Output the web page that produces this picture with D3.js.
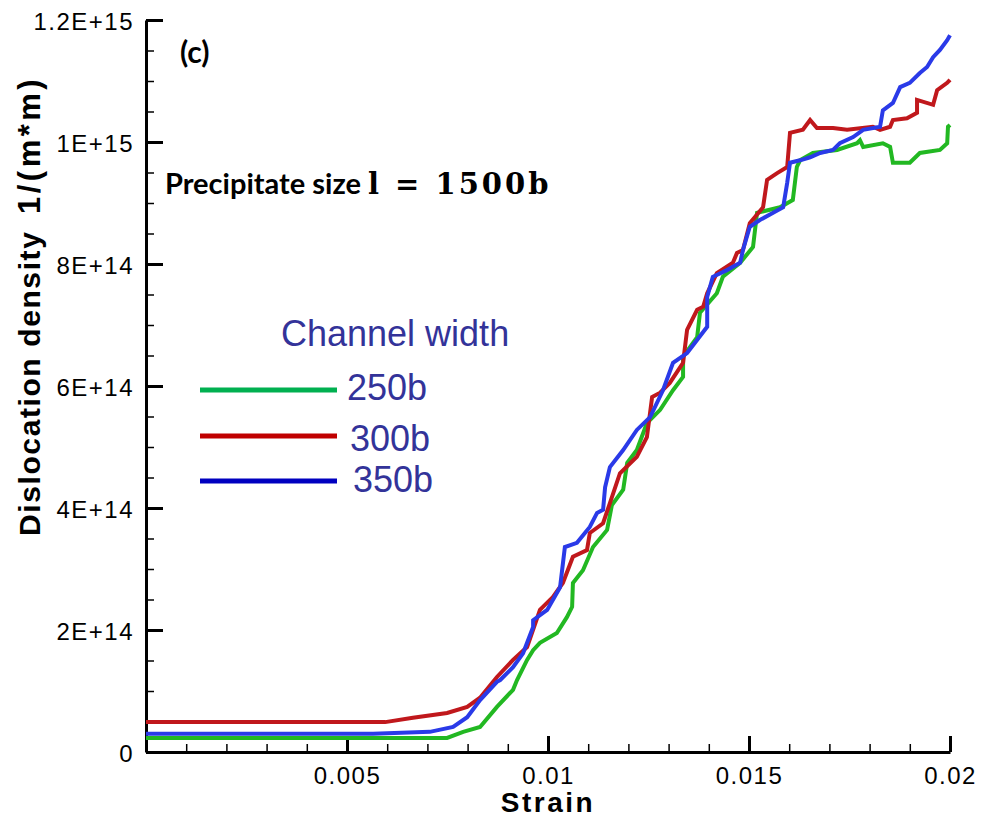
<!DOCTYPE html>
<html>
<head>
<meta charset="utf-8">
<script src="https://cdn.jsdelivr.net/npm/d3@7"></script>
<style>
  body { margin: 0; background: #fff; }
  svg { display: block; }
</style>
</head>
<body>
<svg id="chart"></svg>
<script>
// strain in units of 1e-3, density in units of 1e14 1/m^2
const series = ['250b', '300b', '350b']
const colors = ['#22b822', '#c0181c', '#2a3ae8']
const legendColors = ['#00b050', '#c00000', '#0000c0']

const strain250 = [0, 7.49, 7.89, 8.31, 8.73, 9.13, 9.23, 9.48, 9.63, 9.8, 10.22, 10.47, 10.6, 10.62, 10.87, 11.12, 11.47, 11.59, 11.87, 11.97, 12.21, 12.46, 12.79, 13.11, 13.36, 13.36, 13.71, 13.78, 14.2, 14.35, 14.78, 15.1, 15.2, 15.77, 16.09, 16.19, 16.27, 16.59, 17.19, 17.69, 17.76, 17.84, 18.33, 18.51, 18.58, 19.0, 19.25, 19.75, 19.93, 19.95, 20.0]
const rho250 = [0.23, 0.23, 0.33, 0.41, 0.74, 1.02, 1.18, 1.51, 1.67, 1.79, 1.95, 2.21, 2.38, 2.77, 2.98, 3.36, 3.64, 4.05, 4.3, 4.74, 4.95, 5.39, 5.61, 5.93, 6.15, 6.48, 6.8, 7.2, 7.52, 7.79, 8.02, 8.28, 8.84, 8.93, 9.05, 9.59, 9.7, 9.82, 9.87, 9.98, 10.03, 9.92, 9.98, 9.92, 9.66, 9.66, 9.82, 9.87, 9.98, 10.25, 10.28]

const strain300 = [0, 5.95, 6.64, 7.49, 7.99, 8.31, 8.73, 9.13, 9.48, 9.8, 10.12, 10.37, 10.62, 10.97, 11.04, 11.37, 11.54, 11.79, 12.21, 12.46, 12.59, 12.79, 13.03, 13.36, 13.46, 13.71, 13.86, 13.96, 14.2, 14.6, 14.7, 14.85, 15.02, 15.35, 15.45, 15.7, 15.95, 16.02, 16.34, 16.52, 16.69, 17.09, 17.44, 18.08, 18.26, 18.51, 18.58, 18.93, 19.18, 19.18, 19.58, 19.68, 19.93, 20.0]
const rho300 = [0.49, 0.49, 0.56, 0.64, 0.74, 0.89, 1.23, 1.51, 1.72, 2.33, 2.54, 2.77, 3.2, 3.31, 3.59, 3.75, 4.08, 4.57, 4.84, 5.16, 5.82, 5.89, 6.05, 6.38, 6.92, 7.25, 7.3, 7.52, 7.85, 8.02, 8.18, 8.23, 8.67, 8.93, 9.38, 9.49, 9.59, 10.15, 10.2, 10.36, 10.23, 10.23, 10.2, 10.25, 10.2, 10.25, 10.36, 10.39, 10.48, 10.69, 10.61, 10.85, 10.97, 11.02]

const strain350 = [0, 5.65, 7.06, 7.64, 7.99, 8.31, 8.73, 8.81, 9.13, 9.38, 9.63, 9.63, 9.98, 10.3, 10.42, 10.72, 11.04, 11.22, 11.37, 11.42, 11.54, 11.87, 12.21, 12.54, 12.86, 13.11, 13.46, 13.96, 13.96, 14.1, 14.45, 14.78, 14.85, 15.02, 15.27, 15.6, 15.85, 15.95, 16.02, 16.27, 16.52, 16.77, 17.09, 17.26, 17.59, 17.84, 18.26, 18.33, 18.58, 18.76, 19.0, 19.25, 19.43, 19.58, 19.75, 19.93, 20.0]
const rho350 = [0.3, 0.3, 0.33, 0.41, 0.57, 0.85, 1.15, 1.18, 1.39, 1.62, 2.05, 2.16, 2.33, 2.7, 3.36, 3.43, 3.69, 3.92, 3.97, 4.34, 4.67, 4.95, 5.28, 5.49, 5.93, 6.38, 6.54, 6.97, 7.46, 7.79, 7.9, 8.02, 8.23, 8.61, 8.72, 8.84, 8.93, 9.33, 9.66, 9.7, 9.75, 9.82, 9.87, 9.98, 10.08, 10.2, 10.25, 10.52, 10.64, 10.9, 10.97, 11.13, 11.23, 11.39, 11.51, 11.67, 11.75]

const xTicks = [0, 5, 10, 15, 20]
const xTickLabels = ['', '0.005', '0.01', '0.015', '0.02']
const yTicks = [0, 2, 4, 6, 8, 10, 12]
const yTickLabels = ['0', '2E+14', '4E+14', '6E+14', '8E+14', '1E+15', '1.2E+15']

const width = 981
const height = 823
const margin = { top: 20, left: 146, right: 31, bottom: 71 }
const sans = 'Liberation Sans, Arial, sans-serif'

const svg = d3.select('#chart').attr('width', width).attr('height', height)

const x = d3.scaleLinear().domain([0, 20]).range([margin.left, width - margin.right])
const y = d3.scaleLinear().domain([0, 12]).range([height - margin.bottom, margin.top])

const data = [
  d3.zip(strain250, rho250),
  d3.zip(strain300, rho300),
  d3.zip(strain350, rho350)
]

// minor ticks
svg.append('g')
  .attr('transform', `translate(0,${y(0)})`)
  .call(d3.axisBottom(x).tickValues(d3.range(0, 21, 1)).tickSize(-8).tickFormat(''))
  .call(g => g.select('.domain').remove())
  .call(g => g.selectAll('line').attr('stroke', '#000').attr('stroke-width', 1.5))

svg.append('g')
  .attr('transform', `translate(${x(0)},0)`)
  .call(d3.axisLeft(y).tickValues(d3.range(0, 12.01, 0.5)).tickSize(-8).tickFormat(''))
  .call(g => g.select('.domain').remove())
  .call(g => g.selectAll('line').attr('stroke', '#000').attr('stroke-width', 1.5))

// major axes
const xAxis = svg.append('g')
  .attr('transform', `translate(0,${y(0)})`)
  .call(d3.axisBottom(x).tickValues(xTicks).tickSizeInner(-16).tickSizeOuter(0).tickPadding(28)
    .tickFormat((d, i) => xTickLabels[i]))

const yAxis = svg.append('g')
  .attr('transform', `translate(${x(0)},0)`)
  .call(d3.axisLeft(y).tickValues(yTicks).tickSizeInner(-17).tickSizeOuter(0).tickPadding(12)
    .tickFormat((d, i) => yTickLabels[i]))

;[xAxis, yAxis].forEach(a => {
  a.select('.domain').attr('stroke', '#000').attr('stroke-width', 3)
  a.selectAll('line').attr('stroke', '#000').attr('stroke-width', 3)
  a.selectAll('text')
    .attr('fill', '#000')
    .attr('font-family', sans)
    .attr('font-size', 24)
    .attr('letter-spacing', 1.5)
})
yAxis.selectAll('text').attr('x', -12).attr('dy', '0.38em')
xAxis.selectAll('text').attr('dy', '0.15em')

// lines
const line = d3.line().x(d => x(d[0])).y(d => y(d[1]))

svg.append('g')
  .selectAll('path')
  .data(data)
  .join('path')
  .attr('d', line)
  .attr('fill', 'none')
  .attr('stroke', (d, i) => colors[i])
  .attr('stroke-width', 4)
  .attr('stroke-linejoin', 'miter')

// axis titles
svg.append('text')
  .text('Strain')
  .attr('x', (x(0) + x(20)) / 2)
  .attr('y', 812)
  .attr('text-anchor', 'middle')
  .attr('font-family', sans)
  .attr('font-weight', 'bold')
  .attr('font-size', 28)
  .attr('letter-spacing', 2.5)

svg.append('text')
  .text('Dislocation density')
  .attr('transform', 'translate(40,536) rotate(-90)')
  .attr('font-family', sans)
  .attr('font-weight', 'bold')
  .attr('font-size', 30)
  .attr('letter-spacing', 1.6)

svg.append('text')
  .text('1/(m*m)')
  .attr('transform', 'translate(40,214) rotate(-90)')
  .attr('font-family', sans)
  .attr('font-weight', 'bold')
  .attr('font-size', 31)
  .attr('letter-spacing', 3.5)

// annotations
svg.append('text')
  .text('(c)')
  .attr('x', 180)
  .attr('y', 63)
  .attr('font-family', 'Lato, sans-serif')
  .attr('font-weight', 'bold')
  .attr('font-size', 30)

const note = svg.append('text')
  .attr('x', 165)
  .attr('y', 194)
  .attr('font-weight', 'bold')
  .attr('font-size', 29)
note.append('tspan').attr('font-family', 'Lato, sans-serif').text('Precipitate size ')
note.append('tspan').attr('font-family', 'DejaVu Serif, serif').attr('letter-spacing', 3).text('l = 1500b')

// legend
svg.append('text')
  .text('Channel width')
  .attr('x', 281)
  .attr('y', 346)
  .attr('fill', '#333399')
  .attr('font-family', sans)
  .attr('font-size', 36)

const legendY = [390, 436, 481]
const legendLabelX = [347, 350, 353]
const legendLabelY = [400, 451, 492]

const legend = svg.append('g')
  .selectAll('g')
  .data(series)
  .join('g')

legend.append('line')
  .attr('x1', 200)
  .attr('x2', 337)
  .attr('y1', (d, i) => legendY[i])
  .attr('y2', (d, i) => legendY[i])
  .attr('stroke', (d, i) => legendColors[i])
  .attr('stroke-width', 5)

legend.append('text')
  .text(d => d)
  .attr('x', (d, i) => legendLabelX[i])
  .attr('y', (d, i) => legendLabelY[i])
  .attr('fill', '#333399')
  .attr('font-family', sans)
  .attr('font-size', 36)
</script>
</body>
</html>
